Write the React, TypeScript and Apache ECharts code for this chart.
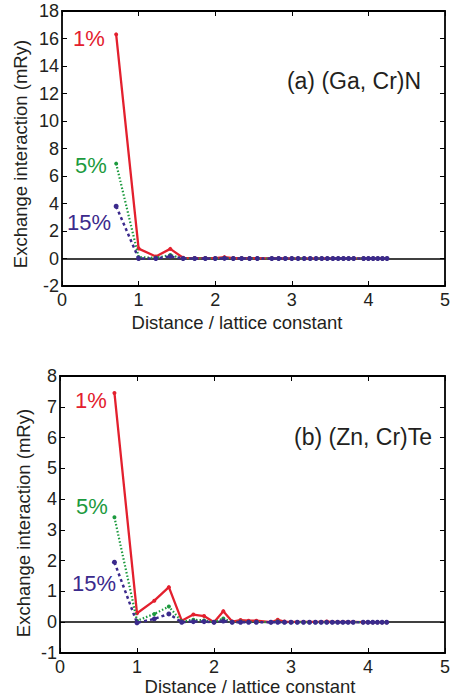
import React, { useEffect, useRef } from "react";
import * as echarts from "echarts";

const distances = [0.707, 1.0, 1.225, 1.414, 1.581, 1.732, 1.871, 2.0, 2.121, 2.236, 2.345, 2.449, 2.55, 2.739, 2.828, 2.915, 3.0, 3.082, 3.162, 3.24, 3.317, 3.391, 3.464, 3.536, 3.606, 3.674, 3.742, 3.808, 3.937, 4.0, 4.062, 4.123, 4.183, 4.243];

const gaN1 = [16.3, 0.72, 0.15, 0.7, 0.05, 0.03, 0.03, 0.02, 0.1, 0.02, 0.02, 0.02, 0.02, 0.01, 0.02, 0.01, 0.01, 0.01, 0.01, 0.01, 0.01, 0.01, 0.01, 0.01, 0.01, 0.01, 0.01, 0.01, 0.0, 0.0, 0.0, 0.0, 0.0, 0.0];
const gaN5 = [6.9, 0.1, 0.05, 0.25, 0.0, 0.01, 0.01, 0.0, 0.03, 0.0, 0.0, 0.0, 0.0, 0.0, 0.0, 0.0, 0.0, 0.0, 0.0, 0.0, 0.0, 0.0, 0.0, 0.0, 0.0, 0.0, 0.0, 0.0, 0.0, 0.0, 0.0, 0.0, 0.0, 0.0];
const gaN15 = [3.8, 0.0, 0.0, 0.15, 0.0, 0.0, 0.0, 0.0, 0.01, 0.0, 0.0, 0.0, 0.0, 0.0, 0.0, 0.0, 0.0, 0.0, 0.0, 0.0, 0.0, 0.0, 0.0, 0.0, 0.0, 0.0, 0.0, 0.0, 0.0, 0.0, 0.0, 0.0, 0.0, 0.0];

const znTe1 = [7.45, 0.29, 0.7, 1.14, 0.05, 0.25, 0.2, 0.0, 0.36, 0.02, 0.07, 0.05, 0.05, 0.0, 0.08, 0.02, 0.01, 0.01, 0.01, 0.01, 0.01, 0.01, 0.02, 0.01, 0.01, 0.01, 0.01, 0.01, 0.0, 0.0, 0.0, 0.0, 0.0, 0.0];
const znTe5 = [3.41, 0.05, 0.27, 0.51, 0.02, 0.08, 0.06, 0.0, 0.12, 0.0, 0.02, 0.01, 0.01, 0.0, 0.02, 0.0, 0.0, 0.0, 0.0, 0.0, 0.0, 0.0, 0.0, 0.0, 0.0, 0.0, 0.0, 0.0, 0.0, 0.0, 0.0, 0.0, 0.0, 0.0];
const znTe15 = [1.95, -0.02, 0.11, 0.27, 0.0, 0.02, 0.02, 0.0, 0.04, 0.0, 0.0, 0.0, 0.0, 0.0, 0.0, 0.0, 0.0, 0.0, 0.0, 0.0, 0.0, 0.0, 0.0, 0.0, 0.0, 0.0, 0.0, 0.0, 0.0, 0.0, 0.0, 0.0, 0.0, 0.0];

const xTitle = "Distance / lattice constant";
const yTitle = "Exchange interaction (mRy)";
const seriesLabels = ["1%", "5%", "15%"];
const panelTitles = ["(a) (Ga, Cr)N", "(b) (Zn, Cr)Te"];

const RED = "#e3202e";
const GREEN = "#1c9a3e";
const BLUE = "#3b2a8c";
const TXT = "#231f20";
const FONT = "Liberation Sans";

const pair = (ys: number[]) => distances.map((d, i) => [d, ys[i]]);

export default function App() {
  const ref = useRef<HTMLDivElement>(null);
  useEffect(() => {
    if (!ref.current) return;
    const chart = echarts.init(ref.current, null, { renderer: "svg" });

    const grids = [
      { left: 62, top: 11, width: 388, height: 275 },
      { left: 60, top: 376, width: 391, height: 277 },
    ];

    const xAxes: any[] = [];
    const yAxes: any[] = [];
    const yRanges = [
      { min: -2, max: 18, interval: 2 },
      { min: -1, max: 8, interval: 1 },
    ];
    grids.forEach((_, gi) => {
      const common = {
        gridIndex: gi,
        min: 0,
        max: 5,
        interval: 1,
        type: "value",
        splitLine: { show: false },
        axisLine: { show: true, onZero: false, lineStyle: { color: "#000", width: 1.8 } },
        axisTick: { show: true, inside: true, length: 5, lineStyle: { color: "#000", width: 1 } },
      };
      xAxes.push({
        ...common,
        position: "bottom",
        axisLabel: { color: TXT, fontSize: 18, fontFamily: FONT, margin: 5 },
      });
      xAxes.push({ ...common, position: "top", axisLabel: { show: false } });
      const ycommon = {
        gridIndex: gi,
        ...yRanges[gi],
        type: "value",
        splitLine: { show: false },
        axisLine: { show: true, onZero: false, lineStyle: { color: "#000", width: 1.8 } },
        axisTick: { show: true, inside: true, length: 5, lineStyle: { color: "#000", width: 1 } },
      };
      yAxes.push({
        ...ycommon,
        position: "left",
        axisLabel: { color: TXT, fontSize: 18, fontFamily: FONT, margin: 3 },
      });
      yAxes.push({ ...ycommon, position: "right", axisLabel: { show: false } });
    });

    const datasets = [
      [gaN1, gaN5, gaN15],
      [znTe1, znTe5, znTe15],
    ];
    const styles = [
      { color: RED, type: "solid", width: 2.3, symbolSize: 4 },
      { color: GREEN, type: [1.5, 2], width: 2.2, symbolSize: 4 },
      { color: BLUE, type: [3, 3], width: 2.5, symbolSize: 5 },
    ];
    const series: any[] = [];
    datasets.forEach((set, gi) => {
      set.forEach((ys, si) => {
        const st = styles[si];
        series.push({
          type: "line",
          xAxisIndex: gi * 2,
          yAxisIndex: gi * 2,
          data: pair(ys),
          symbol: "circle",
          symbolSize: st.symbolSize,
          showSymbol: true,
          itemStyle: { color: st.color },
          lineStyle: { color: st.color, width: st.width, type: st.type },
          z: 3 + si,
          markLine:
            si === 0
              ? {
                  silent: true,
                  symbol: ["none", "none"],
                  label: { show: false },
                  lineStyle: { color: "#000", width: 1.5, type: "solid" },
                  data: [{ yAxis: 0 }],
                  z: 2,
                }
              : undefined,
        });
      });
    });

    const text = (x: number, y: number, s: string, color: string, size: number, extra: any = {}) => ({
      type: "text",
      x,
      y,
      z: 10,
      style: {
        text: s,
        fill: color,
        font: `${size}px "${FONT}"`,
        textAlign: "center",
        textVerticalAlign: "middle",
      },
      ...extra,
    });

    const graphic = [
      text(89, 38, seriesLabels[0], RED, 22),
      text(91, 165, seriesLabels[1], GREEN, 22),
      text(89, 222, seriesLabels[2], BLUE, 22),
      text(354, 81, panelTitles[0], TXT, 23),
      text(237, 322, xTitle, TXT, 18.5),
      text(20, 154, yTitle, TXT, 18.5, { rotation: Math.PI / 2 }),
      text(91, 400, seriesLabels[0], RED, 22),
      text(92, 506, seriesLabels[1], GREEN, 22),
      text(94, 583, seriesLabels[2], BLUE, 22),
      text(363, 437, panelTitles[1], TXT, 23),
      text(250, 686, xTitle, TXT, 18.5),
      text(23, 523, yTitle, TXT, 18.5, { rotation: Math.PI / 2 }),
    ];

    chart.setOption({
      animation: false,
      backgroundColor: "#fff",
      grid: grids,
      xAxis: xAxes,
      yAxis: yAxes,
      series,
      graphic,
    });
    return () => chart.dispose();
  }, []);
  return <div ref={ref} style={{ position: "fixed", left: 0, top: 0, width: 453, height: 700 }} />;
}
